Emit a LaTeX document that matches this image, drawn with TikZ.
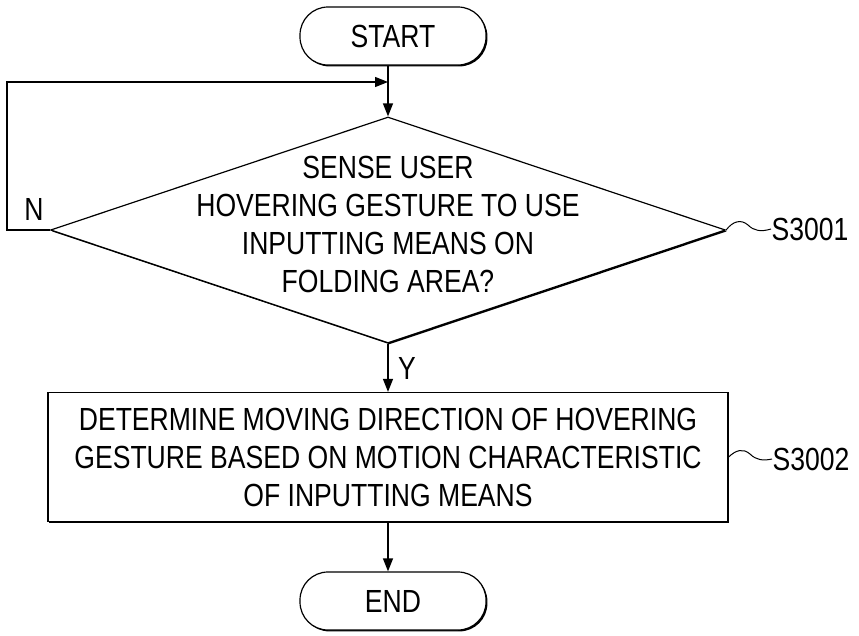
\documentclass[tikz,border=0pt]{standalone}
\usepackage{fontspec}
\setmainfont{Liberation Sans}[FakeStretch=0.83]
\usetikzlibrary{arrows.meta,shapes.geometric,shadows}
\begin{document}
\begin{tikzpicture}[x=1pt, y=-1pt, line width=1.2pt,
        font=\fontsize{32}{38}\selectfont,
        shade/.style={drop shadow={shadow xshift=1.4pt, shadow yshift=-1.4pt,
                      fill=black, opacity=1}},
        terminal/.style={draw, fill=white, shade, rounded corners=28pt,
                         minimum width=186pt, minimum height=58pt, inner sep=0pt},
        decision/.style={draw, fill=white, shade, diamond, inner sep=0pt,
                         minimum width=675pt, minimum height=226pt},
        process/.style={draw, fill=white, shade, minimum width=680pt,
                        minimum height=129pt, inner sep=0pt},
        txt/.style={align=center, inner sep=0pt},
        arr/.style={-{Triangle[length=13pt, width=10pt]}}]
        \useasboundingbox (0,0) rectangle (859,635);
        \node[terminal] (start) at (393,36) {START};
        \node[decision] (sense) at (388,230) {};
        \node[txt] (senseText) at (388,224) {SENSE USER\\HOVERING GESTURE TO USE\\INPUTTING MEANS ON\\FOLDING AREA?};
        \node[process] (detect) at (388,457) {};
        \node[txt] (detectText) at (388,457) {DETERMINE MOVING DIRECTION OF HOVERING\\GESTURE BASED ON MOTION CHARACTERISTIC\\OF INPUTTING MEANS};
        \node[terminal] (end) at (393,601) {END};
        % flow
        \coordinate (join) at (388,82);
        \draw[arr] (start.south -| sense.north) -- (sense.north);
        \draw[arr] (sense.west) -- (7,230) |- (join);
        \node[txt] (no) at (34,209) {N};
        \draw[arr] (sense.south) -- (detect.north);
        \node[txt] (yes) at (407,368) {Y};
        \draw[arr] (detect.south) -- (end.north -| detect.south);
        % step labels
        \node[txt, anchor=west] (s3001) at (771,229) {S3001};
        \node[txt, anchor=west] (s3002) at (772,459) {S3002};
        \draw[line width=1pt] (sense.east) .. controls (733,221) and (741,219) .. (748,225)
            .. controls (754,231) and (761,232) .. (s3001.west);
        \draw[line width=1pt] (detect.east) .. controls (736,450) and (743,448) .. (750,454)
            .. controls (756,460) and (763,461) .. (s3002.west);
\end{tikzpicture}
\end{document}
